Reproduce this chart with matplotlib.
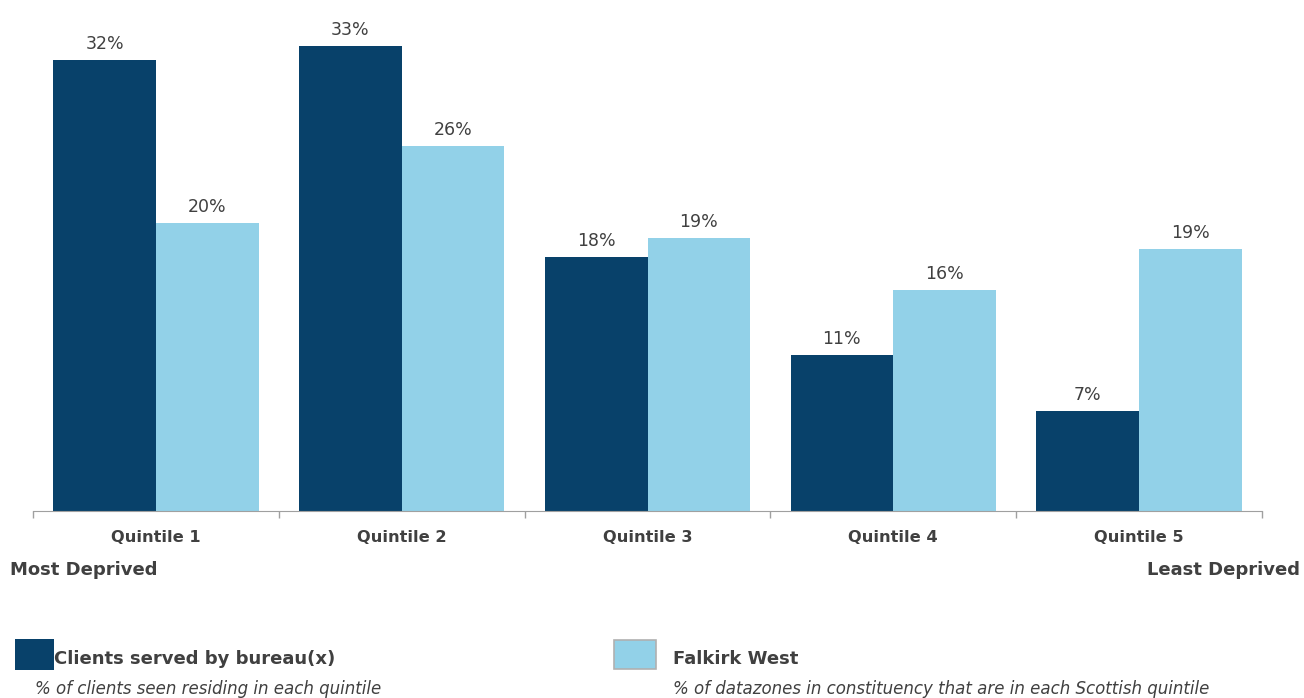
import numpy as np
import matplotlib
matplotlib.use('Agg')
import matplotlib.pyplot as plt
from matplotlib.patches import Rectangle

# Datos
quintiles = ['Quintile 1', 'Quintile 2', 'Quintile 3', 'Quintile 4', 'Quintile 5']
clients_pct = [32.0, 33.0, 18.0, 11.1, 7.1]
falkirk_pct = [20.4, 25.9, 19.4, 15.7, 18.6]
clients_name = 'Clients served by bureau(x)'
falkirk_name = 'Falkirk West'
clients_note = '% of clients seen residing in each quintile'
falkirk_note = '% of datazones in constituency that are in each Scottish quintile'

dark = '#08416A'
light = '#92D1E8'
txt = '#404040'
W, H = 1304, 698

fig = plt.figure(figsize=(W / 100, H / 100), dpi=100)
ax = fig.add_axes([33 / W, (H - 511) / H, (1262 - 33) / W, 511 / H])

x = np.arange(len(quintiles))
bw = 0.418
b1 = ax.bar(x - bw / 2, clients_pct, bw, color=dark, linewidth=0)
b2 = ax.bar(x + bw / 2, falkirk_pct, bw, color=light, linewidth=0)

for bars, vals in [(b1, clients_pct), (b2, falkirk_pct)]:
    for r, v in zip(bars, vals):
        ax.annotate(f'{v:.0f}%', (r.get_x() + r.get_width() / 2, v),
                    xytext=(0, 5), textcoords='offset points',
                    ha='center', va='bottom', fontsize=12.5, color=txt)

ax.set_xlim(-0.5, len(quintiles) - 0.5)
ax.set_ylim(0, 36.25)
for s in ['top', 'right', 'left']:
    ax.spines[s].set_visible(False)
ax.spines['bottom'].set_color('#A0A0A0')
ax.set_yticks([])

# marcas entre grupos
ax.set_xticks(np.arange(-0.5, len(quintiles)), minor=False)
ax.set_xticklabels([])
ax.tick_params(axis='x', length=5, color='#A0A0A0', width=1)
ax.set_xticks(x, minor=True)
ax.set_xticklabels(quintiles, minor=True, fontsize=11.7, fontweight='bold', color=txt)
ax.tick_params(axis='x', which='minor', length=0, pad=14)

fig.text(10 / W, 1 - 570 / H, 'Most Deprived', fontsize=13, fontweight='bold',
         color=txt, ha='left', va='center')
fig.text(1300 / W, 1 - 570 / H, 'Least Deprived', fontsize=13, fontweight='bold',
         color=txt, ha='right', va='center')

# leyenda manual
fig.patches.append(Rectangle((15 / W, 1 - 670 / H), 39 / W, 31 / H,
                             transform=fig.transFigure, facecolor=dark, edgecolor='none'))
fig.text(54 / W, 1 - 659 / H, clients_name, fontsize=13, fontweight='bold',
         color=txt, ha='left', va='center')
fig.text(35 / W, 1 - 689 / H, clients_note, fontsize=12, style='italic',
         color=txt, ha='left', va='center')

fig.patches.append(Rectangle((614 / W, 1 - 669 / H), 42 / W, 29 / H,
                             transform=fig.transFigure, facecolor=light,
                             edgecolor='#B0B0B0', linewidth=1.2))
fig.text(673 / W, 1 - 659 / H, falkirk_name, fontsize=13, fontweight='bold',
         color=txt, ha='left', va='center')
fig.text(673 / W, 1 - 689 / H, falkirk_note, fontsize=12, style='italic',
         color=txt, ha='left', va='center')

fig.savefig('out.png', dpi=100)
